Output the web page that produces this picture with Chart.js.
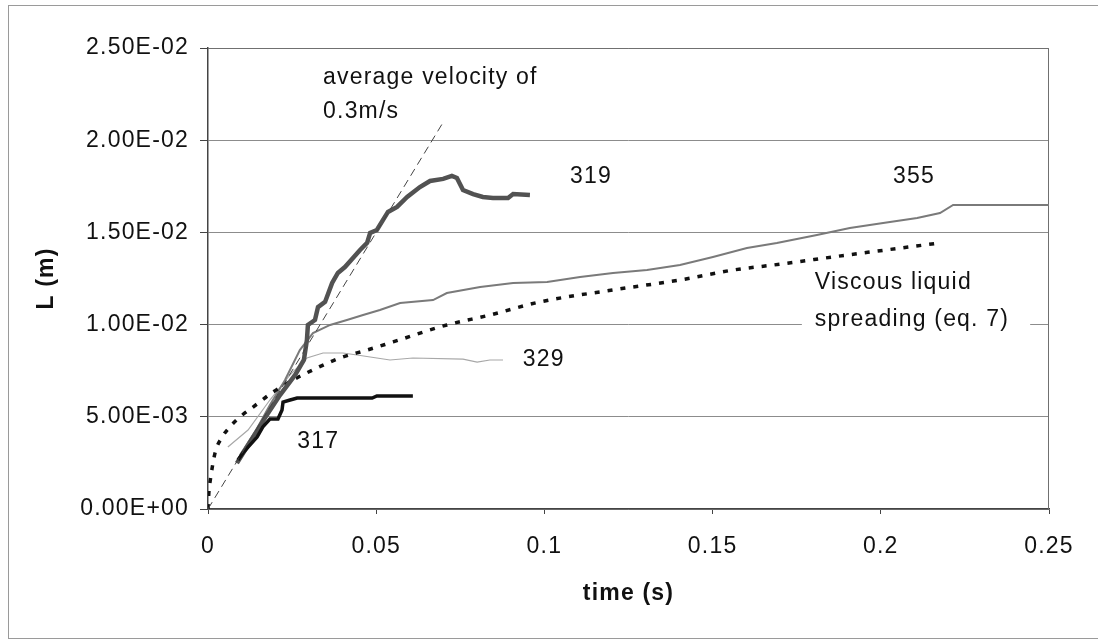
<!DOCTYPE html>
<html>
<head>
<meta charset="utf-8">
<script src="https://cdn.jsdelivr.net/npm/chart.js@4.4.1/dist/chart.umd.min.js"></script>
<style>
  html, body { margin: 0; padding: 0; background: #fff; overflow: hidden; }
  #wrap { position: relative; width: 1098px; height: 640px; overflow: hidden; }
  #wrap canvas { position: absolute; left: 0; top: 0; }
  #frame { position: absolute; left: 8px; top: 5px; width: 1200px; height: 634px;
           border: 1px solid #9a9a9a; box-sizing: border-box; pointer-events: none; }
</style>
</head>
<body>
<div id="wrap">
  <canvas id="myChart" width="1098" height="640"></canvas>
  <div id="frame"></div>
</div>
<script>
// time (s) / L (m)
const t319 = [0.0086, 0.0125, 0.0169, 0.0214, 0.0259, 0.0285, 0.0294, 0.0297, 0.0318, 0.0327, 0.0348, 0.0369, 0.0386, 0.0407, 0.0431, 0.0452, 0.0473, 0.0482, 0.0502, 0.0535, 0.0562, 0.0592, 0.0630, 0.0660, 0.0699, 0.0725, 0.0740, 0.0758, 0.0788, 0.0817, 0.0847, 0.0892, 0.0907, 0.0957];
const L319 = [0.00249, 0.00363, 0.00493, 0.00618, 0.00727, 0.00808, 0.00916, 0.00998, 0.01025, 0.01095, 0.01123, 0.01226, 0.01280, 0.01312, 0.01361, 0.01405, 0.01443, 0.01497, 0.01513, 0.01611, 0.01638, 0.01692, 0.01746, 0.01779, 0.01790, 0.01806, 0.01795, 0.01730, 0.01708, 0.01692, 0.01687, 0.01687, 0.01708, 0.01703];

const t355 = [0.0095, 0.0140, 0.0184, 0.0229, 0.0273, 0.0312, 0.0363, 0.0413, 0.0461, 0.0511, 0.0571, 0.0669, 0.0710, 0.0809, 0.0907, 0.1008, 0.1106, 0.1204, 0.1305, 0.1403, 0.1501, 0.1602, 0.1691, 0.1810, 0.1908, 0.2007, 0.2108, 0.2176, 0.2215, 0.25];
const L355 = [0.00293, 0.00418, 0.00564, 0.00700, 0.00862, 0.00954, 0.00998, 0.01025, 0.01052, 0.01079, 0.01117, 0.01133, 0.01171, 0.01204, 0.01226, 0.01231, 0.01258, 0.01280, 0.01296, 0.01323, 0.01367, 0.01415, 0.01443, 0.01486, 0.01524, 0.01551, 0.01578, 0.01605, 0.01649, 0.01649];

const t329 = [0.0059, 0.0119, 0.0184, 0.0244, 0.0294, 0.0342, 0.0401, 0.0443, 0.0502, 0.0541, 0.0609, 0.0758, 0.0800, 0.0838, 0.0877];
const L329 = [0.00336, 0.00428, 0.00591, 0.00727, 0.00819, 0.00846, 0.00846, 0.00835, 0.00819, 0.00808, 0.00819, 0.00813, 0.00797, 0.00808, 0.00808];

const t317 = [0.0089, 0.0104, 0.0119, 0.0146, 0.0163, 0.0184, 0.0208, 0.0220, 0.0223, 0.0244, 0.0265, 0.0488, 0.0502, 0.0609];
const L317 = [0.00266, 0.00304, 0.00336, 0.00390, 0.00445, 0.00488, 0.00488, 0.00537, 0.00580, 0.00591, 0.00602, 0.00602, 0.00613, 0.00613];

// viscous liquid spreading (eq. 7)
const tVisc = [0, 0.0003, 0.0006, 0.0021, 0.0042, 0.0065, 0.0095, 0.0134, 0.0193, 0.0253, 0.0324, 0.0392, 0.0473, 0.0550, 0.0710, 0.0838, 0.0987, 0.1204, 0.1403, 0.1561, 0.1680, 0.1858, 0.2176];
const LVisc = [0, 0.0010, 0.00146, 0.00304, 0.00390, 0.00445, 0.00499, 0.00553, 0.00634, 0.00700, 0.00765, 0.00819, 0.00862, 0.00906, 0.00998, 0.01052, 0.01123, 0.01188, 0.01242, 0.01296, 0.01323, 0.01367, 0.01443];

// average velocity of 0.3 m/s
const tSlope = [0, 0.07];
const LSlope = [0, 0.021];

const xTicks = [0, 0.05, 0.1, 0.15, 0.2, 0.25];
const yTicks = [0, 0.005, 0.01, 0.015, 0.02, 0.025];

// text notes, placed in data units
const noteText = ["average velocity of", "0.3m/s", "319", "355", "329", "317", "Viscous liquid", "spreading (eq. 7)"];
const noteT = [0.0342, 0.0342, 0.1076, 0.2036, 0.0936, 0.0265, 0.1804, 0.1804];
const noteL = [0.02337, 0.02153, 0.0180, 0.0180, 0.00808, 0.00363, 0.01226, 0.01025];

const FONT = "'Liberation Sans', Arial, sans-serif";
const pts = (xs, ys) => xs.map((x, i) => ({ x: x, y: ys[i] }));

function sciLabel(v) {
  const parts = Number(v).toExponential(2).split("e");
  const n = parseInt(parts[1], 10);
  return parts[0] + "E" + (n < 0 ? "-" : "+") + String(Math.abs(n)).padStart(2, "0");
}

const spacingPlugin = {
  id: "spacing",
  beforeUpdate(chart) { chart.ctx.letterSpacing = "1.2px"; },
  beforeDraw(chart) { chart.ctx.letterSpacing = "1.2px"; }
};

const notesPlugin = {
  id: "notes",
  beforeDatasetsDraw(chart) {
    const { ctx, chartArea: a, scales } = chart;
    ctx.save();
    // top / right frame of the plot area
    ctx.strokeStyle = "#707070";
    ctx.lineWidth = 1;
    ctx.beginPath();
    ctx.moveTo(a.left, a.top + 0.5);
    ctx.lineTo(a.right - 0.5, a.top + 0.5);
    ctx.lineTo(a.right - 0.5, a.bottom);
    ctx.stroke();
    // white box behind the viscous label
    ctx.font = "23px " + FONT;
    const x0 = scales.x.getPixelForValue(noteT[6]);
    const y1 = scales.y.getPixelForValue(noteL[6]);
    const y2 = scales.y.getPixelForValue(noteL[7]);
    const w = Math.max(ctx.measureText(noteText[6]).width, ctx.measureText(noteText[7]).width);
    ctx.fillStyle = "#fff";
    ctx.fillRect(x0 - 13, y1 - 20, w + 34, y2 - y1 + 40);
    ctx.restore();
  },
  afterDatasetsDraw(chart) {
    const { ctx, scales } = chart;
    ctx.save();
    ctx.font = "23px " + FONT;
    ctx.fillStyle = "#111";
    ctx.textAlign = "left";
    ctx.textBaseline = "middle";
    noteText.forEach((s, i) => {
      ctx.fillText(s, scales.x.getPixelForValue(noteT[i]), scales.y.getPixelForValue(noteL[i]));
    });
    ctx.restore();
  }
};

const ctx = document.getElementById("myChart").getContext("2d");
const chart = new Chart(ctx, {
  type: "line",
  data: {
    datasets: [
      { label: "slope", data: pts(tSlope, LSlope), borderColor: "#444", borderWidth: 1, borderDash: [8, 5], order: 1 },
      { label: "317", data: pts(t317, L317), borderColor: "#111", borderWidth: 3.5, order: 2 },
      { label: "319", data: pts(t319, L319), borderColor: "#525252", borderWidth: 4.5, order: 3 },
      { label: "viscous", data: pts(tVisc, LVisc), borderColor: "#111", borderWidth: 3.5, borderDash: [5, 8],
        cubicInterpolationMode: "monotone", order: 4 },
      { label: "355", data: pts(t355, L355), borderColor: "#7a7a7a", borderWidth: 2, order: 5 },
      { label: "329", data: pts(t329, L329), borderColor: "#a8a8a8", borderWidth: 1.2, order: 6 }
    ]
  },
  options: {
    responsive: false,
    animation: false,
    devicePixelRatio: 1,
    layout: { padding: { top: 48, right: 49, left: 0, bottom: 0 } },
    elements: { point: { radius: 0 }, line: { tension: 0, fill: false } },
    plugins: { legend: { display: false }, tooltip: { enabled: false } },
    scales: {
      x: {
        type: "linear",
        min: 0,
        max: 0.25,
        afterBuildTicks: (s) => { s.ticks = xTicks.map((v) => ({ value: v })); },
        afterFit: (s) => { s.height = 131; },
        ticks: {
          color: "#111",
          font: { family: FONT, size: 23 },
          padding: 19,
          maxRotation: 0,
          callback: (v) => String(parseFloat(Number(v).toFixed(2)))
        },
        grid: { drawOnChartArea: false, drawTicks: true, tickLength: 5, tickColor: "#444" },
        border: { display: true, color: "#444", width: 1.5 },
        title: {
          display: true,
          text: "time (s)",
          color: "#111",
          font: { family: FONT, size: 23, weight: "bold" },
          padding: { top: 0, bottom: 33 }
        }
      },
      y: {
        type: "linear",
        min: 0,
        max: 0.025,
        afterBuildTicks: (s) => { s.ticks = yTicks.map((v) => ({ value: v })); },
        afterFit: (s) => { s.width = 208; },
        ticks: {
          color: "#111",
          font: { family: FONT, size: 23 },
          padding: 11,
          callback: (v) => sciLabel(v)
        },
        grid: { color: "#8c8c8c", lineWidth: 1, drawTicks: true, tickLength: 8, tickColor: "#444" },
        border: { display: true, color: "#444", width: 1.5 },
        title: {
          display: true,
          text: "L (m)",
          color: "#111",
          font: { family: FONT, size: 23, weight: "bold" },
          padding: { top: 33, bottom: 0 }
        }
      }
    }
  },
  plugins: [spacingPlugin, notesPlugin]
});
</script>
</body>
</html>
